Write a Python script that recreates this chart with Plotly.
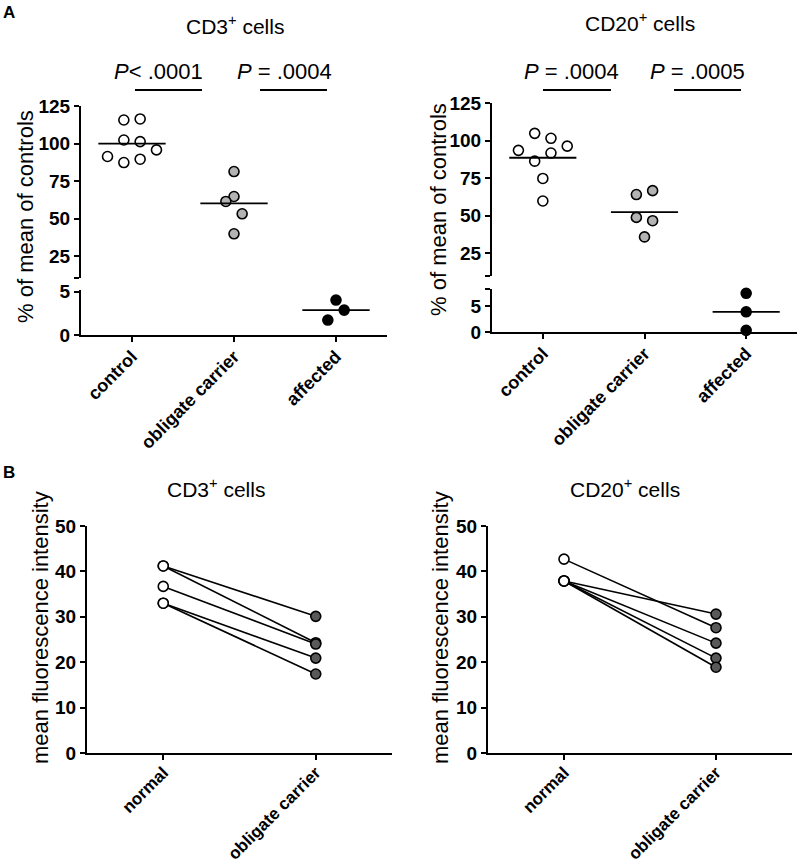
import numpy as np
import plotly.graph_objects as go

# ---------------- data ----------------
groups_a = ["control", "obligate carrier", "affected"]

cd3_control = [115.7, 116.4, 102.4, 101.3, 91.4, 87.4, 89.6, 95.8]
cd3_carrier = [81.4, 64.8, 61.5, 53.3, 40.0]
cd3_affected = [4.04, 2.88, 1.73]

cd20_control = [104.8, 101.5, 93.5, 96.3, 91.7, 86.3, 74.8, 59.8]
cd20_carrier = [64.1, 66.7, 48.9, 46.7, 35.9]
cd20_affected = [7.47, 3.9, 0.32]

# horizontal scatter slots (dot-plot spreading)
cd3_control_slot = [-0.5, 0.5, -0.5, 0.5, -1.5, -0.5, 0.5, 1.5]
cd3_carrier_slot = [0, 0, -0.5, 0.5, 0]
cd3_affected_slot = [0, 0.5, -0.5]
cd20_control_slot = [-0.5, 0.5, -1.5, 1.5, 0.5, -0.5, 0, 0]
cd20_carrier_slot = [-0.5, 0.5, -0.5, 0.5, 0]
cd20_affected_slot = [0, 0, 0]

groups_b = ["normal", "obligate carrier"]
cd3_normal = [41.2, 41.2, 36.7, 33.0, 33.0]
cd3_obligate = [30.1, 24.3, 24.0, 20.9, 17.4]
cd20_normal = [42.7, 37.9, 37.9, 37.9, 37.9]
cd20_obligate = [27.6, 30.6, 24.2, 20.9, 18.9]

p_cd3 = ["<i>P</i>< .0001", "<i>P</i> = .0004"]
p_cd20 = ["<i>P</i> = .0004", "<i>P</i> = .0005"]

# ---------------- layout helpers ----------------
W, H = 800, 868
FONT = "Liberation Sans, Arial, Helvetica, sans-serif"


def px(x):
    return x / W


def py(y):
    return 1 - y / H


def dom_x(l, r):
    return [l / W, r / W]


def dom_y(top, bottom):
    return [1 - bottom / H, 1 - top / H]


SLOT = 0.16
fill_a = ["white", "#b3b3b3", "black"]
fill_b = ["white", "#595959"]

fig = go.Figure()

axis_common = dict(showline=True, linecolor="black", linewidth=2, ticks="outside",
                   ticklen=5, tickwidth=2, tickcolor="black", showgrid=False,
                   zeroline=False, automargin=False,
                   tickfont=dict(family=FONT, size=19, color="black", weight="bold"))


def add_dot_panel(xa, ya_low, ya_up, values, slots, lower_flags):
    for i, (vals, sl) in enumerate(zip(values, slots)):
        ya = ya_low if lower_flags[i] else ya_up
        xs = [i + s * SLOT for s in sl]
        fig.add_trace(go.Scatter(x=xs, y=vals, mode="markers", xaxis=xa, yaxis=ya,
                                 cliponaxis=False, showlegend=False,
                                 marker=dict(size=10, color=fill_a[i],
                                             line=dict(color="black", width=1.6))))
        m = float(np.mean(vals))
        fig.add_trace(go.Scatter(x=[i - 0.33, i + 0.33], y=[m, m], mode="lines",
                                 xaxis=xa, yaxis=ya, cliponaxis=False, showlegend=False,
                                 line=dict(color="black", width=1.8)))


add_dot_panel("x", "y", "y2", [cd3_control, cd3_carrier, cd3_affected],
              [cd3_control_slot, cd3_carrier_slot, cd3_affected_slot], [False, False, True])
add_dot_panel("x2", "y3", "y4", [cd20_control, cd20_carrier, cd20_affected],
              [cd20_control_slot, cd20_carrier_slot, cd20_affected_slot], [False, False, True])


def add_pair_panel(xa, ya, normal, oblig):
    for a, b in zip(normal, oblig):
        fig.add_trace(go.Scatter(x=[0, 1], y=[a, b], mode="lines", xaxis=xa, yaxis=ya,
                                 showlegend=False, line=dict(color="black", width=1.6)))
    fig.add_trace(go.Scatter(x=[0] * len(normal), y=normal, mode="markers", xaxis=xa, yaxis=ya,
                             showlegend=False, cliponaxis=False,
                             marker=dict(size=10, color=fill_b[0], line=dict(color="black", width=1.6))))
    fig.add_trace(go.Scatter(x=[1] * len(oblig), y=oblig, mode="markers", xaxis=xa, yaxis=ya,
                             showlegend=False, cliponaxis=False,
                             marker=dict(size=10, color=fill_b[1], line=dict(color="black", width=1.6))))


add_pair_panel("x3", "y5", cd3_normal, cd3_obligate)
add_pair_panel("x4", "y6", cd20_normal, cd20_obligate)

end_tick = dict(ticks="outside", ticklen=5, tickwidth=2, tickcolor="black", showgrid=False)
xcat_a = dict(tickangle=-45, ticklabelstandoff=-3,
              tickfont=dict(family=FONT, size=18, color="black", weight="bold"))
xcat_b = dict(tickangle=-45, ticklabelstandoff=-4,
              tickfont=dict(family=FONT, size=17, color="black", weight="bold"))

layout = dict(
    template="none",
    width=W, height=H, margin=dict(l=0, r=0, t=0, b=0, pad=0),
    paper_bgcolor="white", plot_bgcolor="white", showlegend=False,
    # panel A left
    xaxis=dict(axis_common, domain=dom_x(81, 387), range=[-0.5, 2.5], anchor="y",
               tickvals=[0, 1, 2], ticktext=groups_a, **xcat_a),
    yaxis=dict(axis_common, domain=dom_y(290, 335), range=[0, 5.2], anchor="x",
               tickvals=[0, 5]),
    yaxis2=dict(axis_common, domain=dom_y(106, 278), range=[10.6, 125], anchor="x",
                tickvals=[25, 50, 75, 100, 125], minor=dict(end_tick, tickvals=[10.6])),
    # panel A right
    xaxis2=dict(axis_common, domain=dom_x(492, 797), range=[-0.5, 2.5], anchor="y3",
                tickvals=[0, 1, 2], ticktext=groups_a, **xcat_a),
    yaxis3=dict(axis_common, domain=dom_y(289, 332), range=[0, 8.3], anchor="x2",
                tickvals=[0, 5], minor=dict(end_tick, tickvals=[8.3])),
    yaxis4=dict(axis_common, domain=dom_y(103, 276), range=[9.9, 125], anchor="x2",
                tickvals=[25, 50, 75, 100, 125], minor=dict(end_tick, tickvals=[9.9])),
    # panel B left
    xaxis3=dict(axis_common, domain=dom_x(87, 392), range=[-0.5, 1.5], anchor="y5",
                tickvals=[0, 1], ticktext=groups_b, **xcat_b),
    yaxis5=dict(axis_common, domain=dom_y(526, 753), range=[0, 50], anchor="x3",
                tickvals=[0, 10, 20, 30, 40, 50]),
    # panel B right
    xaxis4=dict(axis_common, domain=dom_x(488, 792), range=[-0.5, 1.5], anchor="y6",
                tickvals=[0, 1], ticktext=groups_b, **xcat_b),
    yaxis6=dict(axis_common, domain=dom_y(526, 753), range=[0, 50], anchor="x4",
                tickvals=[0, 10, 20, 30, 40, 50]),
)
fig.update_layout(**layout)

annots = []


def text(x, y, s, size=22, bold=False, angle=0):
    annots.append(dict(x=px(x), y=py(y), xref="paper", yref="paper", text=s, showarrow=False,
                       xanchor="center", yanchor="middle", textangle=angle,
                       font=dict(family=FONT, size=size, color="black",
                                 weight="bold" if bold else "normal")))


text(9, 12, "A", size=17, bold=True)
text(9, 472, "B", size=17, bold=True)
text(235, 25, "CD3<sup>+</sup> cells", size=21)
text(640, 22, "CD20<sup>+</sup> cells", size=21)
text(216, 488, "CD3<sup>+</sup> cells", size=21)
text(625, 488, "CD20<sup>+</sup> cells", size=21)
text(25, 217, "% of mean of controls", angle=-90)
text(438, 210, "% of mean of controls", angle=-90)
text(40, 628, "mean fluorescence intensity", angle=-90)
text(440, 628, "mean fluorescence intensity", angle=-90)
text(158, 71, p_cd3[0])
text(284, 71, p_cd3[1])
text(571, 71, p_cd20[0])
text(697, 71, p_cd20[1])

shapes = []
for x0, x1 in [(135, 202), (260, 327), (543, 611), (674, 741)]:
    shapes.append(dict(type="line", xref="paper", yref="paper", x0=px(x0), x1=px(x1),
                       y0=py(90), y1=py(90), line=dict(color="black", width=2)))

fig.update_layout(annotations=annots, shapes=shapes)
fig.write_html("out.html", config={"displayModeBar": False, "staticPlot": True},
               post_script="document.body.style.margin='0';document.body.style.padding='0';"
                           "document.documentElement.style.overflow='hidden';")
